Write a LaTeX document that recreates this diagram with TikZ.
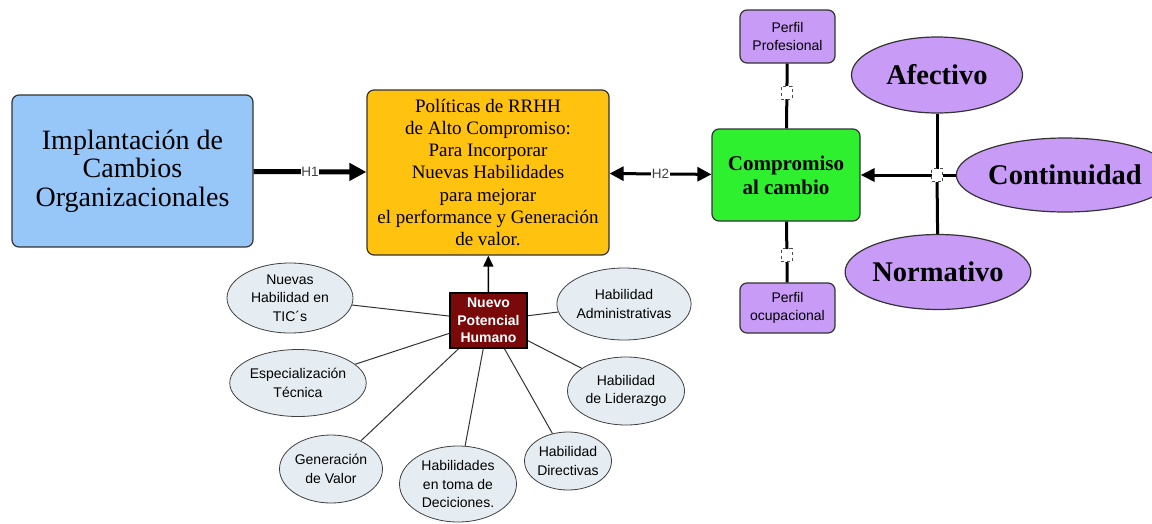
\documentclass[tikz,border=0pt]{standalone}
\usepackage{fontspec}
\setmainfont{Liberation Serif}
\setsansfont{Liberation Sans}
\usetikzlibrary{shapes.geometric,arrows.meta}

\definecolor{azulcaja}{HTML}{97C7F8}
\definecolor{orocaja}{HTML}{FFC20E}
\definecolor{verdecaja}{HTML}{2EF02E}
\definecolor{lilacaja}{HTML}{C89BF7}
\definecolor{granate}{HTML}{7A0A0A}
\definecolor{grisclaro}{HTML}{E6EDF2}

\tikzset{
  caja/.style={draw=black!80, line width=1.2pt, rounded corners=7pt, align=center, inner sep=0pt},
  perfil/.style={caja, fill=lilacaja, minimum width=95pt, font=\sffamily\fontsize{14}{18}\selectfont},
  tipo/.style={ellipse, draw=black!80, line width=1.2pt, fill=lilacaja, inner sep=0pt,
    font=\bfseries\fontsize{28.5}{30}\selectfont},
  habil/.style={ellipse, draw=black!75, line width=0.8pt, fill=grisclaro, inner sep=0pt, align=center,
    font=\sffamily\fontsize{14}{18.5}\selectfont},
  marca/.style={draw=black!70, dashed, fill=white, line width=0.7pt, minimum width=11pt, minimum height=13pt, inner sep=0pt},
  etiq/.style={fill=white, inner sep=0.6pt, text=black!75, font=\sffamily\fontsize{13.5}{14}\selectfont},
  enlace/.style={line width=3pt},
}

\begin{document}
\begin{tikzpicture}[x=1pt, y=-1pt]
  \useasboundingbox (0,0) rectangle (1152,523);

  % Main boxes
  \node[caja, fill=azulcaja, minimum width=241pt, minimum height=152pt,
        font=\fontsize{28}{28.5}\selectfont] (impl) at (132.5,171)
        {Implantación de\\Cambios\\Organizacionales};
  \node[caja, fill=orocaja, minimum width=242pt, minimum height=165pt,
        font=\fontsize{19}{22.3}\selectfont] (polit) at (488,172.5)
        {Políticas de RRHH\\de Alto Compromiso:\\Para Incorporar\\Nuevas Habilidades\\para mejorar\\el performance y Generación\\de valor.};
  \node[caja, fill=verdecaja, minimum width=148pt, minimum height=92pt,
        font=\bfseries\fontsize{21}{24}\selectfont] (comp) at (786,175)
        {Compromiso\\al cambio};

  % Profiles
  \node[perfil, minimum height=53pt] (pprof) at (787.5,36.5) {Perfil\\Profesional};
  \node[perfil, minimum height=50pt] (pocup) at (787.5,308) {Perfil\\ocupacional};

  % Types of commitment
  \node[tipo, minimum width=171pt, minimum height=76pt] (afec) at (937,75) {Afectivo};
  \node[tipo, minimum width=180pt, minimum height=75pt] (norm) at (938,272) {Normativo};
  \node[tipo, minimum width=170pt, minimum height=74pt] (cont) at (1065,175) {Continuidad};
  \coordinate (cruce) at (937,175);

  % Human potential
  \node[draw=black, line width=1.5pt, fill=granate, text=white, align=center, inner sep=0pt,
        minimum width=77pt, minimum height=55pt, font=\sffamily\bfseries\fontsize{14}{17.5}\selectfont]
        (npot) at (488.5,320.5) {Nuevo\\Potencial\\Humano};

  % Skills
  \node[habil, minimum width=126pt, minimum height=70pt] (tic)  at (290,298) {Nuevas\\Habilidad en\\TIC´s};
  \node[habil, minimum width=130pt, minimum height=67pt] (espe) at (298,383) {Especialización\\Técnica};
  \node[habil, minimum width=103pt, minimum height=68pt] (gene) at (331,469) {Generación\\de Valor};
  \node[habil, minimum width=117pt, minimum height=76pt] (deci) at (458,484) {Habilidades\\en toma de\\Deciciones.};
  \node[habil, minimum width=87pt, minimum height=58pt]  (dire) at (568,461) {Habilidad\\Directivas};
  \node[habil, minimum width=117pt, minimum height=68pt] (lide) at (626,391) {Habilidad\\de Liderazgo};
  \node[habil, minimum width=128pt, minimum height=72pt] (admi) at (624,304) {Habilidad\\Administrativas};

  % Connectors
  \draw[line width=5pt, -{Triangle[length=17pt,width=17pt]}] (impl) -- node[etiq] {H1} (polit);
  \draw[enlace, {Triangle[length=14pt,width=14pt]}-{Triangle[length=14pt,width=14pt]}]
        (polit) -- node[etiq] {H2} (comp);
  \draw[enlace] (pprof) -- node[marca, pos=0.45] {} (comp);
  \draw[enlace] (comp) -- node[marca, pos=0.55] {} (pocup);
  \draw[enlace] (afec) -- (cruce);
  \draw[enlace] (norm) -- (cruce);
  \draw[enlace] (cont) -- (cruce);
  \draw[enlace, -{Triangle[length=14pt,width=13pt]}] (cruce) -- (comp);
  \node[marca] at (cruce) {};

  \draw[line width=1.5pt, -{Triangle[length=11pt,width=10pt]}] (npot) -- (polit);
  \foreach \h in {tic, espe, gene, deci, dire, lide, admi}
    \draw[black!80, line width=1pt] (npot) -- (\h);

\end{tikzpicture}
\end{document}
